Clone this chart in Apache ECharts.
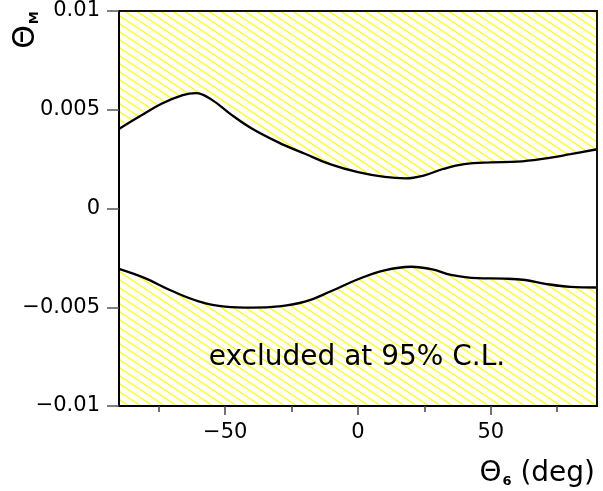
<!DOCTYPE html>
<html><head><meta charset="utf-8">
<script src="https://cdn.jsdelivr.net/npm/echarts@6/dist/echarts.min.js"></script>
<style>html,body{margin:0;padding:0;background:#fff}#c{width:603px;height:491px}</style>
</head><body><div id="c"></div>
<script>
// Upper boundary of allowed region (theta_6 in deg, theta_M)
const upperX = [-90, -82, -74, -66, -61, -55, -48, -40, -30, -20, -10, 0, 10, 18, 25, 32, 40, 50, 60, 70, 80, 90];
const upperY = [0.00403, 0.00468, 0.0053, 0.00574, 0.00584, 0.0055, 0.00478, 0.00405, 0.00335, 0.00277, 0.00222, 0.00184, 0.0016, 0.00153, 0.00168, 0.002, 0.00225, 0.00234, 0.00237, 0.00252, 0.00275, 0.003];
// Lower boundary
const lowerX = [-90, -80, -70, -60, -50, -40, -30, -20, -10, 0, 10, 20, 28, 35, 45, 55, 63, 70, 80, 90];
const lowerY = [-0.00306, -0.00354, -0.00418, -0.0047, -0.00497, -0.00502, -0.00496, -0.00472, -0.00418, -0.00358, -0.00313, -0.00295, -0.00308, -0.00336, -0.00353, -0.00355, -0.00362, -0.0038, -0.00397, -0.004];
// Ticks
const xMajorTicks = [-50, 0, 50];
const xMinorTicks = [-75, -25, 25, 75];
const xTickLabels = ['−50', '0', '50'];
const yTicks = [-0.01, -0.005, 0, 0.005, 0.01];
const yTickLabels = ['−0.01', '−0.005', '0', '0.005', '0.01'];
const annotation = 'excluded at 95% C.L.';

const FONT = 'DejaVu Sans';

// hatch pattern
const pat = document.createElement('canvas');
pat.width = 12; pat.height = 8;
const ctx = pat.getContext('2d');
ctx.strokeStyle = '#ffff00';
ctx.lineWidth = 1.3;
for (const c of [-8, 0, 8]) {
  ctx.beginPath();
  ctx.moveTo(-12, -8 + c);
  ctx.lineTo(24, 16 + c);
  ctx.stroke();
}
const hatch = { image: pat, repeat: 'repeat' };

const zip = (xs, ys) => xs.map((x, i) => [x, ys[i]]);

const chart = echarts.init(document.getElementById('c'), null, { renderer: 'canvas' });
chart.setOption({
  animation: false,
  grid: { left: 119, right: 6, top: 11, bottom: 85, show: true, z: 5, borderColor: '#111', borderWidth: 2, backgroundColor: 'transparent' },
  xAxis: [{
    type: 'value', min: -90, max: 90, z: 5,
    axisLine: { show: true, onZero: false, lineStyle: { color: '#000', width: 2 } },
    axisTick: { show: true, customValues: xMajorTicks, length: 9, lineStyle: { color: '#444', width: 1.5 } },
    axisLabel: { show: true, customValues: xMajorTicks, margin: 16, fontFamily: FONT, fontSize: 21, color: '#000',
      formatter: v => xTickLabels[xMajorTicks.indexOf(v)] },
    splitLine: { show: false }
  }, {
    type: 'value', min: -90, max: 90, position: 'bottom', z: 5,
    axisLine: { show: false, onZero: false },
    axisTick: { show: true, customValues: xMinorTicks, length: 6, lineStyle: { color: '#444', width: 1.5 } },
    axisLabel: { show: false },
    splitLine: { show: false }
  }],
  yAxis: {
    type: 'value', min: -0.01, max: 0.01, z: 5,
    axisLine: { show: true, onZero: false, lineStyle: { color: '#000', width: 2 } },
    axisTick: { show: true, customValues: yTicks, length: 12, lineStyle: { color: '#555', width: 1.5 } },
    axisLabel: { show: true, customValues: yTicks, margin: 19, fontFamily: FONT, fontSize: 21, color: '#000',
      formatter: v => { let i = yTicks.findIndex(t => Math.abs(t - v) < 1e-9); return yTickLabels[i]; } },
    splitLine: { show: false }
  },
  series: [{
    type: 'line', data: zip(upperX, upperY), smooth: 0.4, symbol: 'none',
    lineStyle: { color: '#000', width: 2.3 },
    areaStyle: { color: hatch, origin: 'end', opacity: 1 }
  }, {
    type: 'line', data: zip(lowerX, lowerY), smooth: 0.4, symbol: 'none',
    lineStyle: { color: '#000', width: 2.3 },
    areaStyle: { color: hatch, origin: 'start', opacity: 1 }
  }],
  graphic: [{
    type: 'text', x: 357, y: 358, z: 10,
    style: { text: annotation, align: 'center', verticalAlign: 'middle', font: '28px "' + FONT + '"', fill: '#000' }
  }, {
    type: 'text', x: 595, y: 474, z: 10,
    style: {
      text: '{a|Θ}{s|6}{a| (deg)}', align: 'right', verticalAlign: 'middle',
      rich: {
        a: { fontFamily: FONT, fontSize: 28, color: '#000' },
        s: { fontFamily: FONT, fontSize: 13, fontWeight: 'bold', color: '#000', verticalAlign: 'bottom', padding: [0, 0, 0, 1] }
      }
    }
  }, {
    type: 'text', x: 26, y: 30, rotation: Math.PI / 2, z: 10,
    style: {
      text: '{a|Θ}{s|M}', align: 'center', verticalAlign: 'middle',
      rich: {
        a: { fontFamily: FONT, fontSize: 30, color: '#000' },
        s: { fontFamily: FONT, fontSize: 13, fontWeight: 'bold', color: '#000', verticalAlign: 'bottom', padding: [0, 0, 0, 1] }
      }
    }
  }]
});
</script></body></html>
